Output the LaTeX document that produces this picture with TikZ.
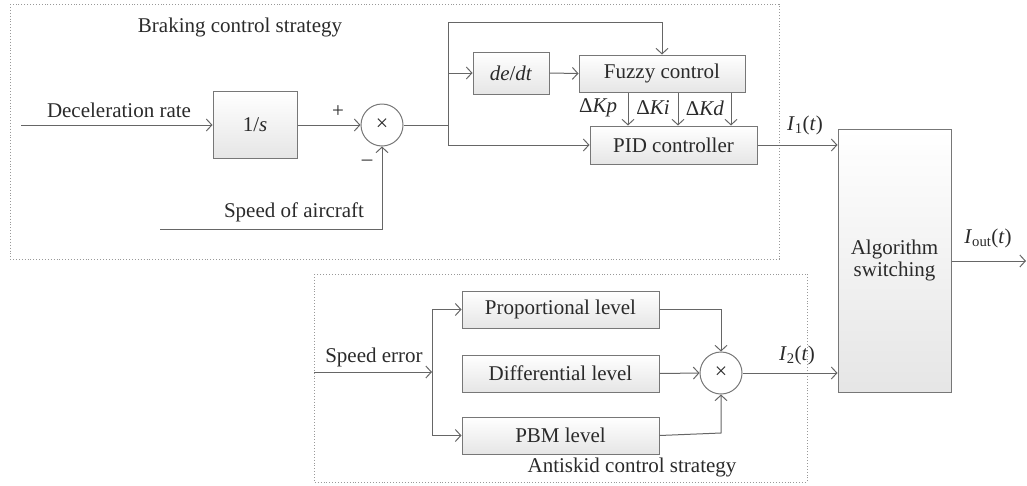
\documentclass[tikz,border=0pt]{standalone}
\usepackage{fontspec}
\setmainfont{Liberation Serif}
\usetikzlibrary{arrows.meta}
\definecolor{wire}{HTML}{666666}
\definecolor{edge}{HTML}{777777}
\definecolor{ink}{HTML}{2A2A2A}
\newcommand{\iv}[1]{\textit{#1}}
\begin{document}
\begin{tikzpicture}[x=1pt,y=-1pt,
  every node/.style={text=ink,font=\fontsize{21}{24}\selectfont},
  >={Straight Barb[length=5.5pt,width=12pt]},
  wireline/.style={draw=wire,line width=1pt},
  blk/.style={draw=edge,line width=1pt,top color=white,bottom color=gray!20,inner sep=0pt},
  sumnode/.style={circle,draw=edge,line width=1pt,fill=white,minimum size=42pt,inner sep=0pt},
  frame/.style={draw=gray!80,line width=0.9pt,dotted},
  lbl/.style={inner sep=0pt}]
\useasboundingbox (0,0) rectangle (1027,485);

% dotted frames of the two strategies
\draw[frame] (10,4) rectangle (779,259);
\draw[frame] (314,274) rectangle (807,482);
\node[lbl] (tbrake) at (240,27) {Braking control strategy};
\node[lbl] (tanti) at (632,467) {Antiskid control strategy};

% braking loop
\coordinate (din) at (21,125);
\node[blk,minimum width=84pt,minimum height=67pt] (int) at (255,125) {1/\iv{s}};
\node[sumnode] (sum1) at (382,125) {\fontsize{22}{22}\selectfont ×};
\coordinate (spd) at (160,229);
\coordinate (j1) at (448,125);
\coordinate (jtop) at (448,22);
\node[blk,minimum width=76pt,minimum height=42pt] (dedt) at (511,73) {\iv{de}/\iv{dt}};
\node[blk,minimum width=166pt,minimum height=37pt] (fuzzy) at (662,73.5) {Fuzzy control};
\node[blk,minimum width=167pt,minimum height=38pt] (pid) at (673.5,145) {PID controller};
\node[blk,minimum width=113pt,minimum height=263pt,align=center] (alg) at (894.5,260.5) {Algorithm\\[-2pt]switching};
\coordinate (out) at (1026,261);

\node[lbl] (ldec) at (119,110) {Deceleration rate};
\node[lbl] (lplus) at (338,112) {+};
\node[lbl] (lminus) at (367,163) {–};
\node[lbl] (lspd) at (294,212) {Speed of aircraft};

\draw[wireline,->] (din) -- (int.west);
\draw[wireline,->] (int.east) -- (sum1.west);
\draw[wireline,->] (spd) -| (sum1.south);
\draw[wireline] (sum1.east) -- (j1);
\draw[wireline,->] (jtop) -- (j1 |- pid.west) -- (pid.west);
\draw[wireline,->] (j1 |- dedt.west) -- (dedt.west);
\draw[wireline,->] (jtop) -| (fuzzy.north);
\draw[wireline,->] (dedt.east) -- (fuzzy.west);

% gain corrections from the fuzzy block
\coordinate (kp) at (628,0);
\coordinate (ki) at (678,0);
\coordinate (kd) at (731,0);
\draw[wireline,->] (fuzzy.south -| kp) -- (pid.north -| kp);
\draw[wireline,->] (fuzzy.south -| ki) -- (pid.north -| ki);
\draw[wireline,->] (fuzzy.south -| kd) -- (pid.north -| kd);
\node[lbl] (lkp) at (598,108) {Δ\iv{Kp}};
\node[lbl] (lki) at (653,108) {Δ\iv{Ki}};
\node[lbl] (lkd) at (705,108) {Δ\iv{Kd}};

\draw[wireline,->] (pid.east) -- (alg.west |- pid.east);
\node[lbl] (li1) at (805,125) {\iv{I}\textsubscript{1}(\iv{t})};
\draw[wireline,->] (alg.east |- out) -- (out);
\node[lbl] (liout) at (988,238) {\iv{I}\textsubscript{out}(\iv{t})};

% antiskid branch
\coordinate (sein) at (314,372);
\coordinate (j2) at (432,372);
\node[blk,minimum width=197pt,minimum height=37pt] (prop) at (560.5,309.5) {Proportional level};
\node[blk,minimum width=197pt,minimum height=37pt] (diff) at (560.5,373.5) {Differential level};
\node[blk,minimum width=197pt,minimum height=37pt] (pbm) at (560.5,435.5) {PBM level};
\node[sumnode] (sum2) at (721,373) {\fontsize{22}{22}\selectfont ×};
\node[lbl] (lse) at (374,357) {Speed error};

\draw[wireline,->] (sein) -- (j2);
\draw[wireline,->] (j2) |- (prop.west);
\draw[wireline,->] (j2) |- (pbm.west);
\draw[wireline,->] (diff.east) -- (sum2.west);
\draw[wireline,->] (prop.east) -| (sum2.north);
\draw[wireline,->] (pbm.east) -- (sum2.south |- 0,433) -- (sum2.south);
\draw[wireline,->] (sum2.east) -- (alg.west |- sum2.east);
\node[lbl] (li2) at (797,355) {\iv{I}\textsubscript{2}(\iv{t})};
\end{tikzpicture}
\end{document}
